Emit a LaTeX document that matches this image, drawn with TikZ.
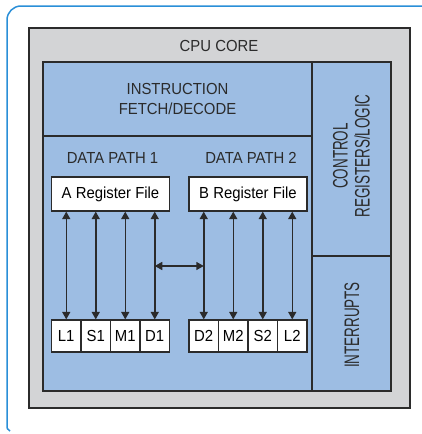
\documentclass[tikz,border=0pt]{standalone}
\usepackage{fontspec}
\setmainfont{Liberation Sans}
\usetikzlibrary{arrows.meta}
\definecolor{frameblue}{HTML}{2A8FD8}
\definecolor{coregray}{HTML}{D3D4D6}
\definecolor{pathblue}{HTML}{9DBDE3}
\definecolor{edge}{HTML}{2B2B2B}
\newcommand{\hs}[1]{\scalebox{0.93}[1]{#1}}
\newcommand{\vs}[1]{\scalebox{0.64}[1]{#1}}
\tikzset{
  lbl/.style={inner sep=0pt, font=\fontsize{16}{20}\selectfont, text=edge},
  rlbl/.style={inner sep=0pt, rotate=90, align=center, font=\fontsize{21}{22}\selectfont, text=edge},
  region/.style={draw=edge, line width=1.4pt, fill=pathblue},
  regfile/.style={draw=edge, line width=1.2pt, fill=white, minimum width=118pt, minimum height=34pt, inner sep=0pt, font=\fontsize{16}{20}\selectfont},
  unit/.style={draw=edge, line width=1.2pt, fill=white, minimum width=29.5pt, minimum height=32pt, inner sep=0pt, font=\fontsize{16}{20}\selectfont},
  dbl/.style={line width=1.5pt, draw=edge, {Triangle[width=8pt,length=7.5pt]}-{Triangle[width=8pt,length=7.5pt]}}
}
\begin{document}
\begin{tikzpicture}[x=1pt,y=-1pt]
\useasboundingbox (0,0) rectangle (422,434);
\fill[white] (0,0) rectangle (422,434);
% outer bracket frame
\draw[frameblue, line width=1.5pt] (10,431) .. controls (7,429) .. (7,424) -- (7,20) arc[start angle=180, end angle=270, radius=14] -- (422,6);
% core
\draw[draw=edge, line width=1.5pt, fill=coregray] (29,28) rectangle (410,408);
\node[lbl] (core) at (219,46) {\hs{CPU CORE}};
% regions
\draw[region] (43,62) rectangle (391,391);
\draw[edge, line width=1.4pt] (43,136) -- (312,136);
\draw[edge, line width=1.4pt] (312,62) -- (312,391);
\draw[edge, line width=1.4pt] (312,256) -- (391,256);
\node[lbl, align=center] (ifd) at (177.5,99) {\hs{INSTRUCTION}\\\hs{FETCH/DECODE}};
\node[rlbl] (ctrl) at (351.5,156) {\vs{CONTROL}\\\vs{REGISTERS/LOGIC}};
\node[rlbl] (intr) at (352,325) {\vs{INTERRUPTS}};
\node[lbl] (dp1) at (112.5,158) {\hs{DATA PATH 1}};
\node[lbl] (dp2) at (251,158) {\hs{DATA PATH 2}};
% register files
\node[regfile] (ra) at (110.5,194) {\hs{A Register File}};
\node[regfile] (rb) at (248,194) {\hs{B Register File}};
% units
\node[unit] (L1) at (66.25,336) {\hs{L1}};
\node[unit] (S1) at (95.75,336) {\hs{S1}};
\node[unit] (M1) at (125.25,336) {\hs{M1}};
\node[unit] (D1) at (154.75,336) {\hs{D1}};
\node[unit] (D2) at (203.75,336) {\hs{D2}};
\node[unit] (M2) at (233.25,336) {\hs{M2}};
\node[unit] (S2) at (262.75,336) {\hs{S2}};
\node[unit] (L2) at (292.25,336) {\hs{L2}};
% arrows
\foreach \u in {L1,S1,M1,D1}{\draw[dbl] (\u.north |- ra.south) -- (\u.north);}
\foreach \u in {D2,M2,S2,L2}{\draw[dbl] (\u.north |- rb.south) -- (\u.north);}
\coordinate (mid) at (0,266);
\draw[dbl] (D1.center |- mid) -- (D2.center |- mid);
\end{tikzpicture}
\end{document}
